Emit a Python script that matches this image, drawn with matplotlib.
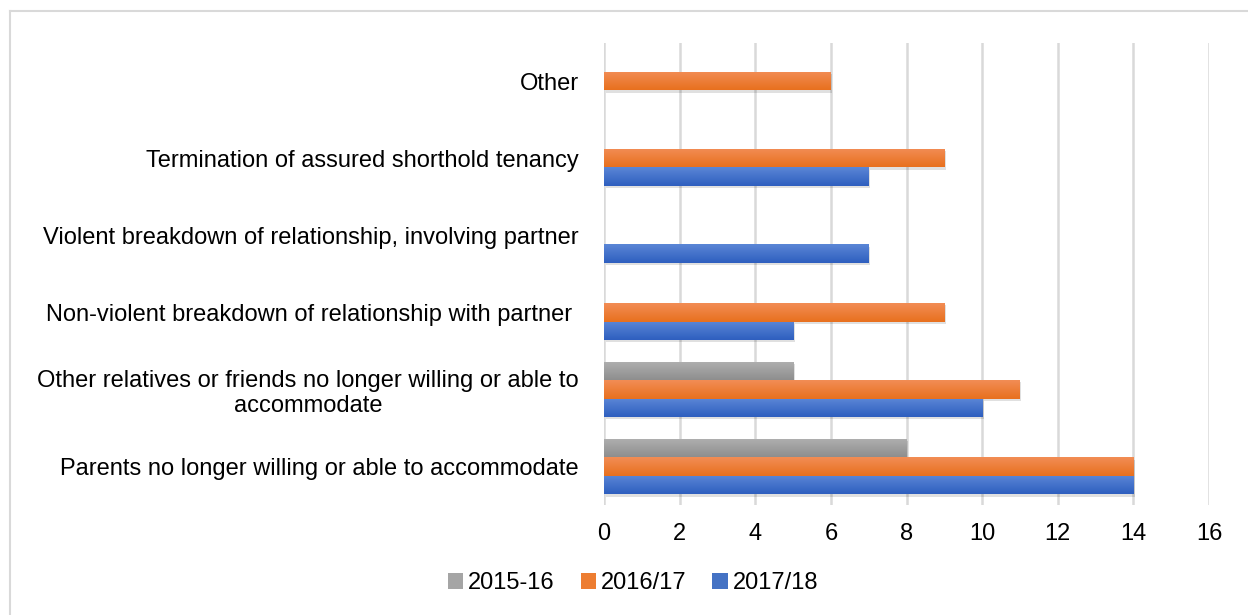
import matplotlib
matplotlib.use("Agg")
import matplotlib.pyplot as plt
import numpy as np
from matplotlib.colors import LinearSegmentedColormap
from matplotlib.lines import Line2D
from matplotlib.patches import Rectangle

plt.rcParams['font.family'] = ['Liberation Sans', 'DejaVu Sans']

categories = [
    "Parents no longer willing or able to accommodate",
    "Other relatives or friends no longer willing or able to\naccommodate",
    "Non-violent breakdown of relationship with partner ",
    "Violent breakdown of relationship, involving partner",
    "Termination of assured shorthold tenancy",
    "Other",
]
series_names = ["2015-16", "2016/17", "2017/18"]
v_2015_16 = [8, 5, 0, 0, 0, 0]
v_2016_17 = [14, 11, 9, 0, 9, 6]
v_2017_18 = [14, 10, 5, 7, 7, 0]
xticks = [0, 2, 4, 6, 8, 10, 12, 14, 16]

series_values = [v_2015_16, v_2016_17, v_2017_18]
# (top colour, bottom colour, legend colour)
series_colors = [
    ("#b0b0b0", "#8e8e8e", "#a5a5a5"),
    ("#f28d55", "#e8701e", "#ed7d31"),
    ("#5b86d6", "#2e5fbf", "#4472c4"),
]

FS = 17
W, H = 1248, 615
fig = plt.figure(figsize=(W / 100, H / 100), dpi=100)
ax = fig.add_axes([604 / W, 1 - 505 / H, (1209 - 604) / W, (505 - 42.5) / H])

bar_h = 0.24
y = np.arange(len(categories))
offsets = [bar_h, 0, -bar_h]

for vals, off, (ctop, cbot, cleg), name in zip(series_values, offsets, series_colors, series_names):
    bars = ax.barh(y + off, vals, height=bar_h, color=cleg, label=name, zorder=3)
    cmap = LinearSegmentedColormap.from_list("g", [ctop, cbot])
    grad = np.linspace(0, 1, 64).reshape(-1, 1)
    for b in bars:
        w = b.get_width()
        if w <= 0:
            b.set_visible(False)
            continue
        x0, y0, hh = b.get_x(), b.get_y(), b.get_height()
        sh = Rectangle((x0 + 0.04, y0 - 0.03), w, hh, facecolor="#000000", alpha=0.12,
                       edgecolor="none", zorder=2)
        ax.add_patch(sh)
        im = ax.imshow(grad, extent=(x0, x0 + w, y0, y0 + hh), cmap=cmap,
                       aspect="auto", origin="upper", zorder=3.5, interpolation="bicubic")
        im.set_clip_path(b)

ax.set_xlim(0, 16)
ax.set_ylim(-0.5, len(categories) - 0.5)
ax.set_xticks(xticks)
ax.set_xticklabels([str(t) for t in xticks], fontsize=FS)
ax.set_yticks(y)
ax.set_yticklabels(categories, fontsize=FS, multialignment="center")
ax.tick_params(axis="both", length=0)
ax.tick_params(axis="y", pad=18)
ax.tick_params(axis="x", pad=13)
ax.grid(axis="x", color="#d9d9d9", linewidth=1.8, zorder=0)
ax.set_axisbelow(True)
for s in ax.spines.values():
    s.set_visible(False)

leg = fig.legend(loc="center", bbox_to_anchor=(633 / W, 1 - 583 / H), ncol=3, frameon=False,
                 fontsize=FS, handlelength=0.65, handleheight=0.65, handletextpad=0.2,
                 columnspacing=1.1)

# outer chart border (top and left visible)
fig.add_artist(Line2D([10 / W, 1.0], [1 - 11 / H, 1 - 11 / H], color="#d9d9d9", linewidth=1.5,
                      transform=fig.transFigure))
fig.add_artist(Line2D([10 / W, 10 / W], [1 - 11 / H, 0.0], color="#d9d9d9", linewidth=1.5,
                      transform=fig.transFigure))

fig.savefig("out.png", dpi=100, facecolor="white")
